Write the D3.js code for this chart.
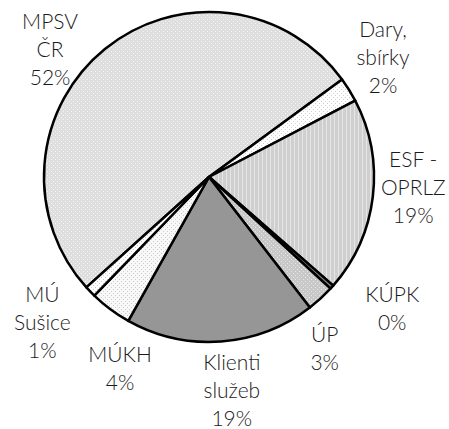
<!DOCTYPE html>
<html>
<head>
<meta charset="utf-8">
<script src="https://cdn.jsdelivr.net/npm/d3@7"></script>
<style>
  body { margin: 0; background: #fff; }
  svg text { font-family: Lato, "Open Sans", sans-serif; font-size: 21px; font-weight: 300; fill: #1a1a1a; }
</style>
</head>
<body>
<div id="chart"></div>
<script>
//---- size of the picture ----//
var width = 449
var height = 429

//---- data ----//
var sources = ['MPSV ČR', 'Dary, sbírky', 'ESF - OPRLZ', 'KÚPK', 'ÚP', 'Klienti služeb', 'MÚKH', 'MÚ Sušice']
var shares  = [51.6, 2.4, 19.1, 0.4, 2.7, 18.6, 4.1, 1.1]
var pctLabels = ['52%', '2%', '19%', '0%', '3%', '19%', '4%', '1%']
var labelLines = [['MPSV', 'ČR'], ['Dary,', 'sbírky'], ['ESF -', 'OPRLZ'], ['KÚPK'], ['ÚP'], ['Klienti', 'služeb'], ['MÚKH'], ['MÚ', 'Sušice']]

//---- layout ----//
var cx = 209, cy = 177, radius = 165
var startDeg = -132
// where each label block sits: angle (deg, clockwise from top) and distance from centre
var labelAngle = [307, 57.2, 95, 127.2, 147.1, 174.1, 204.1, 227.5]
var labelDist  = [199, 207, 205, 230, 213, 222, 218, 226]
var lineStep = 28

var svg = d3.select('#chart').append('svg')
            .attr('width', width)
            .attr('height', height)

//---- fill patterns (office style textures) ----//
var defs = svg.append('defs')
function dotPattern(id, bg, dot, size, r) {
  var p = defs.append('pattern').attr('id', id)
      .attr('width', size).attr('height', size)
      .attr('patternUnits', 'userSpaceOnUse')
  p.append('rect').attr('width', size).attr('height', size).attr('fill', bg)
  p.append('rect').attr('x', 0).attr('y', 0).attr('width', r).attr('height', r).attr('fill', dot)
  p.append('rect').attr('x', size/2).attr('y', size/2).attr('width', r).attr('height', r).attr('fill', dot)
}
dotPattern('pMpsv', '#dedede', '#f6f6f6', 4, 1)
dotPattern('pDary', '#ffffff', '#d0d0d0', 4, 1)
dotPattern('pUp',   '#c8c8c8', '#e8e8e8', 4, 1)
dotPattern('pMukh', '#f8f8f8', '#cccccc', 4, 1)
dotPattern('pMu',   '#ffffff', '#c8c8c8', 4, 1)
var st = defs.append('pattern').attr('id', 'pEsf')
    .attr('width', 4).attr('height', 4).attr('patternUnits', 'userSpaceOnUse')
st.append('rect').attr('width', 4).attr('height', 4).attr('fill', '#cfcfcf')
st.append('rect').attr('x', 1).attr('width', 1).attr('height', 4).attr('fill', '#e6e6e6')

var fills = ['url(#pMpsv)', 'url(#pDary)', 'url(#pEsf)', '#808080', 'url(#pUp)', '#969696', 'url(#pMukh)', 'url(#pMu)']

//---- pie ----//
var pie = d3.pie().sort(null)
            .startAngle(startDeg * Math.PI / 180)
            .endAngle((startDeg + 360) * Math.PI / 180)
var arc = d3.arc().innerRadius(0).outerRadius(radius)

var g = svg.append('g').attr('transform', 'translate(' + cx + ',' + cy + ')')

g.selectAll('.slice')
  .data(pie(shares))
  .enter().append('path')
    .attr('class', 'slice')
    .attr('d', arc)
    .attr('fill', function(d, i){ return fills[i] })
    .attr('stroke', '#000')
    .attr('stroke-width', 2.5)
    .attr('stroke-linejoin', 'round')

//---- labels (point = baseline of the middle line) ----//
sources.forEach(function(name, i){
  var lines = labelLines[i].concat([pctLabels[i]])
  var pt = d3.pointRadial(labelAngle[i] * Math.PI / 180, labelDist[i])
  var t = g.append('text')
      .attr('text-anchor', 'middle')
  lines.forEach(function(l, j){
    t.append('tspan')
      .attr('x', pt[0])
      .attr('y', pt[1] + (j - (lines.length - 1) / 2) * lineStep)
      .text(l)
  })
})
</script>
</body>
</html>
